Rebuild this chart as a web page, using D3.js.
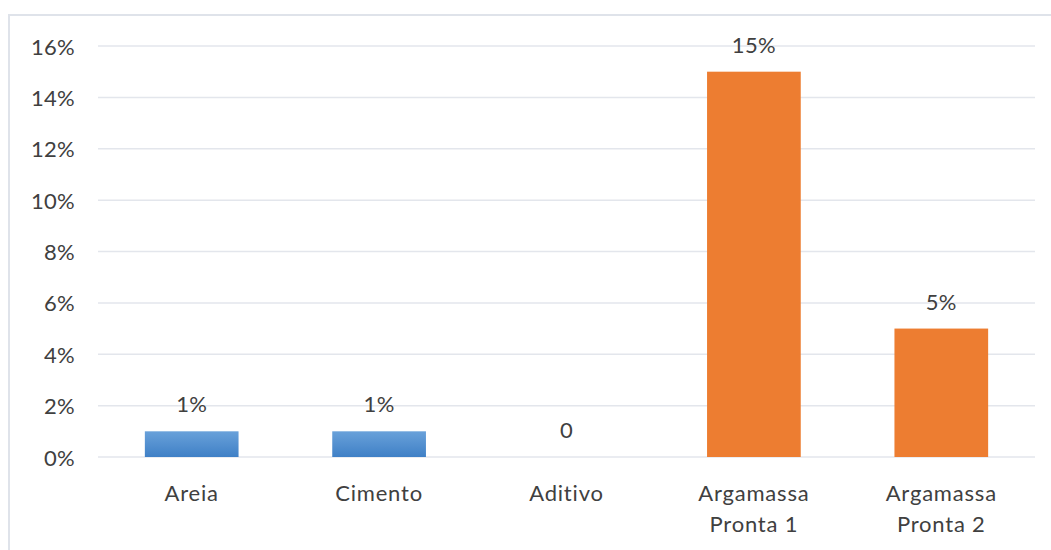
<!DOCTYPE html>
<html>
<head>
<meta charset="utf-8">
<script src="https://cdn.jsdelivr.net/npm/d3@7"></script>
<style>
  html, body { margin: 0; padding: 0; background: #fff; }
  svg { display: block; font-family: Lato, "Open Sans", sans-serif; }
</style>
</head>
<body>
<svg id="chart" width="1051" height="550"></svg>
<script>
// Share of each material
const categories = [["Areia"], ["Cimento"], ["Aditivo"], ["Argamassa", "Pronta 1"], ["Argamassa", "Pronta 2"]];
const values = [0.01, 0.01, 0, 0.15, 0.05];
const valueLabels = ["1%", "1%", "0", "15%", "5%"];
const groups = ["blue", "blue", "blue", "orange", "orange"];
const yTicks = [0, 0.02, 0.04, 0.06, 0.08, 0.10, 0.12, 0.14, 0.16];

const svg = d3.select("#chart");
const W = 1051, H = 550;
const plot = { left: 98, right: 1035, top: 46, bottom: 457 };
const fontSize = 22;
const textColor = "#404040";

// Outer chart frame
svg.append("rect")
  .attr("x", 9).attr("y", 15)
  .attr("width", W + 10).attr("height", H + 10)
  .attr("fill", "#fff")
  .attr("stroke", "#dfe3ea").attr("stroke-width", 2);

const defs = svg.append("defs");
const grad = defs.append("linearGradient")
  .attr("id", "blueFill").attr("x1", 0).attr("y1", 0).attr("x2", 0).attr("y2", 1);
grad.append("stop").attr("offset", "0%").attr("stop-color", "#69a1da");
grad.append("stop").attr("offset", "100%").attr("stop-color", "#3f80c6");

const x = d3.scaleBand()
  .domain(categories.map((c, i) => i))
  .range([plot.left, plot.right])
  .paddingInner(0.5).paddingOuter(0.25);

const y = d3.scaleLinear().domain([0, 0.16]).range([plot.bottom, plot.top]);

// Gridlines
svg.append("g")
  .selectAll("line")
  .data(yTicks)
  .join("line")
  .attr("x1", plot.left).attr("x2", plot.right)
  .attr("y1", d => y(d)).attr("y2", d => y(d))
  .attr("stroke", "#e3e6ec").attr("stroke-width", 1.5);

// Y axis labels
const yAxis = d3.axisLeft(y).tickValues(yTicks).tickFormat(d3.format(".0%")).tickSize(0).tickPadding(0);
const yg = svg.append("g").attr("transform", `translate(75,1)`).call(yAxis);
yg.select(".domain").remove();
yg.selectAll("text").attr("font-size", fontSize).attr("fill", textColor)
  .attr("font-family", "Lato, 'Open Sans', sans-serif")
  .attr("letter-spacing", 0.3);

// Bars
svg.append("g")
  .selectAll("rect")
  .data(values)
  .join("rect")
  .attr("x", (d, i) => x(i))
  .attr("width", x.bandwidth())
  .attr("y", d => y(d))
  .attr("height", d => y(0) - y(d))
  .attr("fill", (d, i) => groups[i] === "blue" ? "url(#blueFill)" : "#ed7d31");

// Value labels
svg.append("g")
  .selectAll("text")
  .data(values)
  .join("text")
  .attr("x", (d, i) => x(i) + x.bandwidth() / 2)
  .attr("y", d => y(d) - 19)
  .attr("text-anchor", "middle")
  .attr("font-size", fontSize)
  .attr("letter-spacing", 0.3)
  .attr("fill", textColor)
  .text((d, i) => valueLabels[i]);

// Category labels
const cat = svg.append("g")
  .selectAll("text")
  .data(categories)
  .join("text")
  .attr("x", (d, i) => x(i) + x.bandwidth() / 2)
  .attr("y", 501)
  .attr("text-anchor", "middle")
  .attr("font-size", fontSize)
  .attr("letter-spacing", 0.8)
  .attr("fill", textColor);
cat.selectAll("tspan")
  .data(d => d)
  .join("tspan")
  .attr("x", function () { return d3.select(this.parentNode).attr("x"); })
  .attr("dy", (d, i) => i === 0 ? 0 : 31)
  .text(d => d);
</script>
</body>
</html>
